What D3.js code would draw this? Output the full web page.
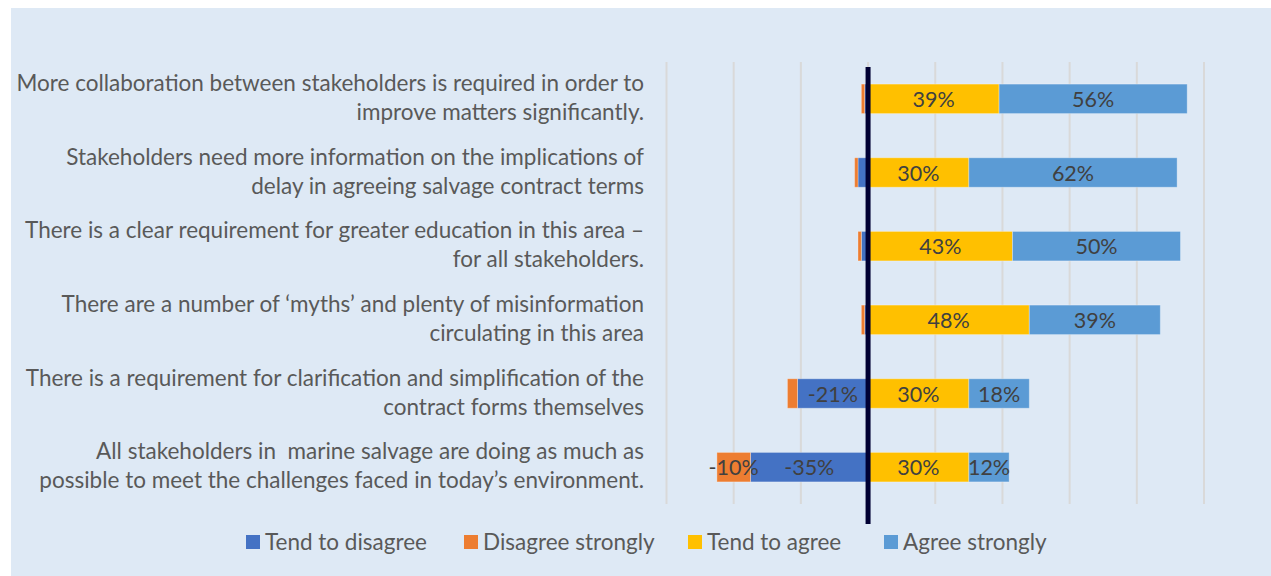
<!DOCTYPE html>
<html>
<head>
<meta charset="utf-8">
<script src="https://cdn.jsdelivr.net/npm/d3@7"></script>
<style>
  html, body { margin: 0; padding: 0; background: #fff; }
  svg { display: block; }
  text { font-family: Lato, "Open Sans", sans-serif; white-space: pre; }
</style>
</head>
<body>
<svg id="chart" width="1271" height="576"></svg>
<script>
// statements (two lines each, as in the original)
var categories = [
  ["More collaboration between stakeholders is required in order to", "improve matters significantly."],
  ["Stakeholders need more information on the implications of", "delay in agreeing salvage contract terms"],
  ["There is a clear requirement for greater education in this area \u2013", "for all stakeholders."],
  ["There are a number of \u2018myths\u2019 and plenty of misinformation", "circulating in this area"],
  ["There is a requirement for clarification and simplification of the", "contract forms themselves"],
  ["All stakeholders in  marine salvage are doing as much as", "possible to meet the challenges faced in today\u2019s environment."]
];
var tendDisagree     = [-1, -3, -2, -1, -21, -35];
var disagreeStrongly = [-1, -1, -1, -1, -3, -10];
var tendAgree        = [39, 30, 43, 48, 30, 30];
var agreeStrongly    = [56, 62, 50, 39, 18, 12];
var seriesNames  = ["Tend to disagree", "Disagree strongly", "Tend to agree", "Agree strongly"];
var seriesColors = ["#4472c4", "#ed7d31", "#ffc000", "#5b9bd5"];
var gridTicks = [-60, -40, -20, 0, 20, 40, 60, 80, 100];

var svg = d3.select("#chart");

svg.append("rect")
  .attr("x", 11).attr("y", 8)
  .attr("width", 1260).attr("height", 568)
  .attr("fill", "#dee9f5");

var x = d3.scaleLinear().domain([-60, 100]).range([666.5, 1204]);
var y = d3.scaleBand()
  .domain(d3.range(categories.length))
  .range([62, 504])
  .paddingInner(0.6)
  .paddingOuter(0.3);

// gridlines
svg.append("g").selectAll("line")
  .data(gridTicks)
  .join("line")
  .attr("x1", d => x(d)).attr("x2", d => x(d))
  .attr("y1", 62).attr("y2", 504)
  .attr("stroke", "#d9d9d9")
  .attr("stroke-width", 2);

// build stacked segments
var segs = [];
categories.forEach(function(c, i) {
  var td = tendDisagree[i], ds = disagreeStrongly[i];
  var ta = tendAgree[i], as = agreeStrongly[i];
  segs.push({ i: i, s: 0, v: td, x0: 0, x1: td });
  segs.push({ i: i, s: 1, v: ds, x0: td, x1: td + ds });
  segs.push({ i: i, s: 2, v: ta, x0: 0, x1: ta });
  segs.push({ i: i, s: 3, v: as, x0: ta, x1: ta + as });
});

svg.append("g").selectAll("rect")
  .data(segs.filter(d => d.v !== 0))
  .join("rect")
  .attr("x", d => x(Math.min(d.x0, d.x1)))
  .attr("width", d => Math.abs(x(d.x1) - x(d.x0)))
  .attr("y", d => y(d.i))
  .attr("height", y.bandwidth())
  .attr("fill", d => seriesColors[d.s])
  .attr("stroke", "rgba(255,255,255,0.3)")
  .attr("stroke-width", 1);

// value labels
svg.append("g").selectAll("text")
  .data(segs.filter(d => Math.abs(d.v) >= 5))
  .join("text")
  .attr("x", d => x((d.x0 + d.x1) / 2))
  .attr("y", d => y(d.i) + y.bandwidth() / 2 + 8)
  .attr("text-anchor", "middle")
  .attr("font-size", 21.5)
  .attr("fill", "#404040")
  .text(d => d.v + "%");

// zero line
svg.append("line")
  .attr("x1", x(0)).attr("x2", x(0))
  .attr("y1", 67).attr("y2", 524)
  .attr("stroke", "#000033")
  .attr("stroke-width", 5);

// category labels
var lab = svg.append("g").selectAll("text")
  .data(categories)
  .join("text")
  .attr("text-anchor", "end")
  .attr("font-size", 22.5)
  .attr("fill", "#595959");
lab.each(function(d, i) {
  var t = d3.select(this);
  var cy = y(i) + y.bandwidth() / 2;
  t.append("tspan").attr("x", 644).attr("y", cy - 8).text(d[0]);
  t.append("tspan").attr("x", 644).attr("y", cy + 21).text(d[1]);
});

// legend
var legendX = [246, 464, 688, 884];
var leg = svg.append("g").selectAll("g")
  .data(seriesNames)
  .join("g")
  .attr("transform", (d, i) => "translate(" + legendX[i] + ",542)");
leg.append("rect")
  .attr("x", 0).attr("y", -7)
  .attr("width", 14).attr("height", 14)
  .attr("fill", (d, i) => seriesColors[i]);
leg.append("text")
  .attr("x", 19).attr("y", 8)
  .attr("font-size", 22.5)
  .attr("fill", "#595959")
  .text(d => d);
</script>
</body>
</html>
